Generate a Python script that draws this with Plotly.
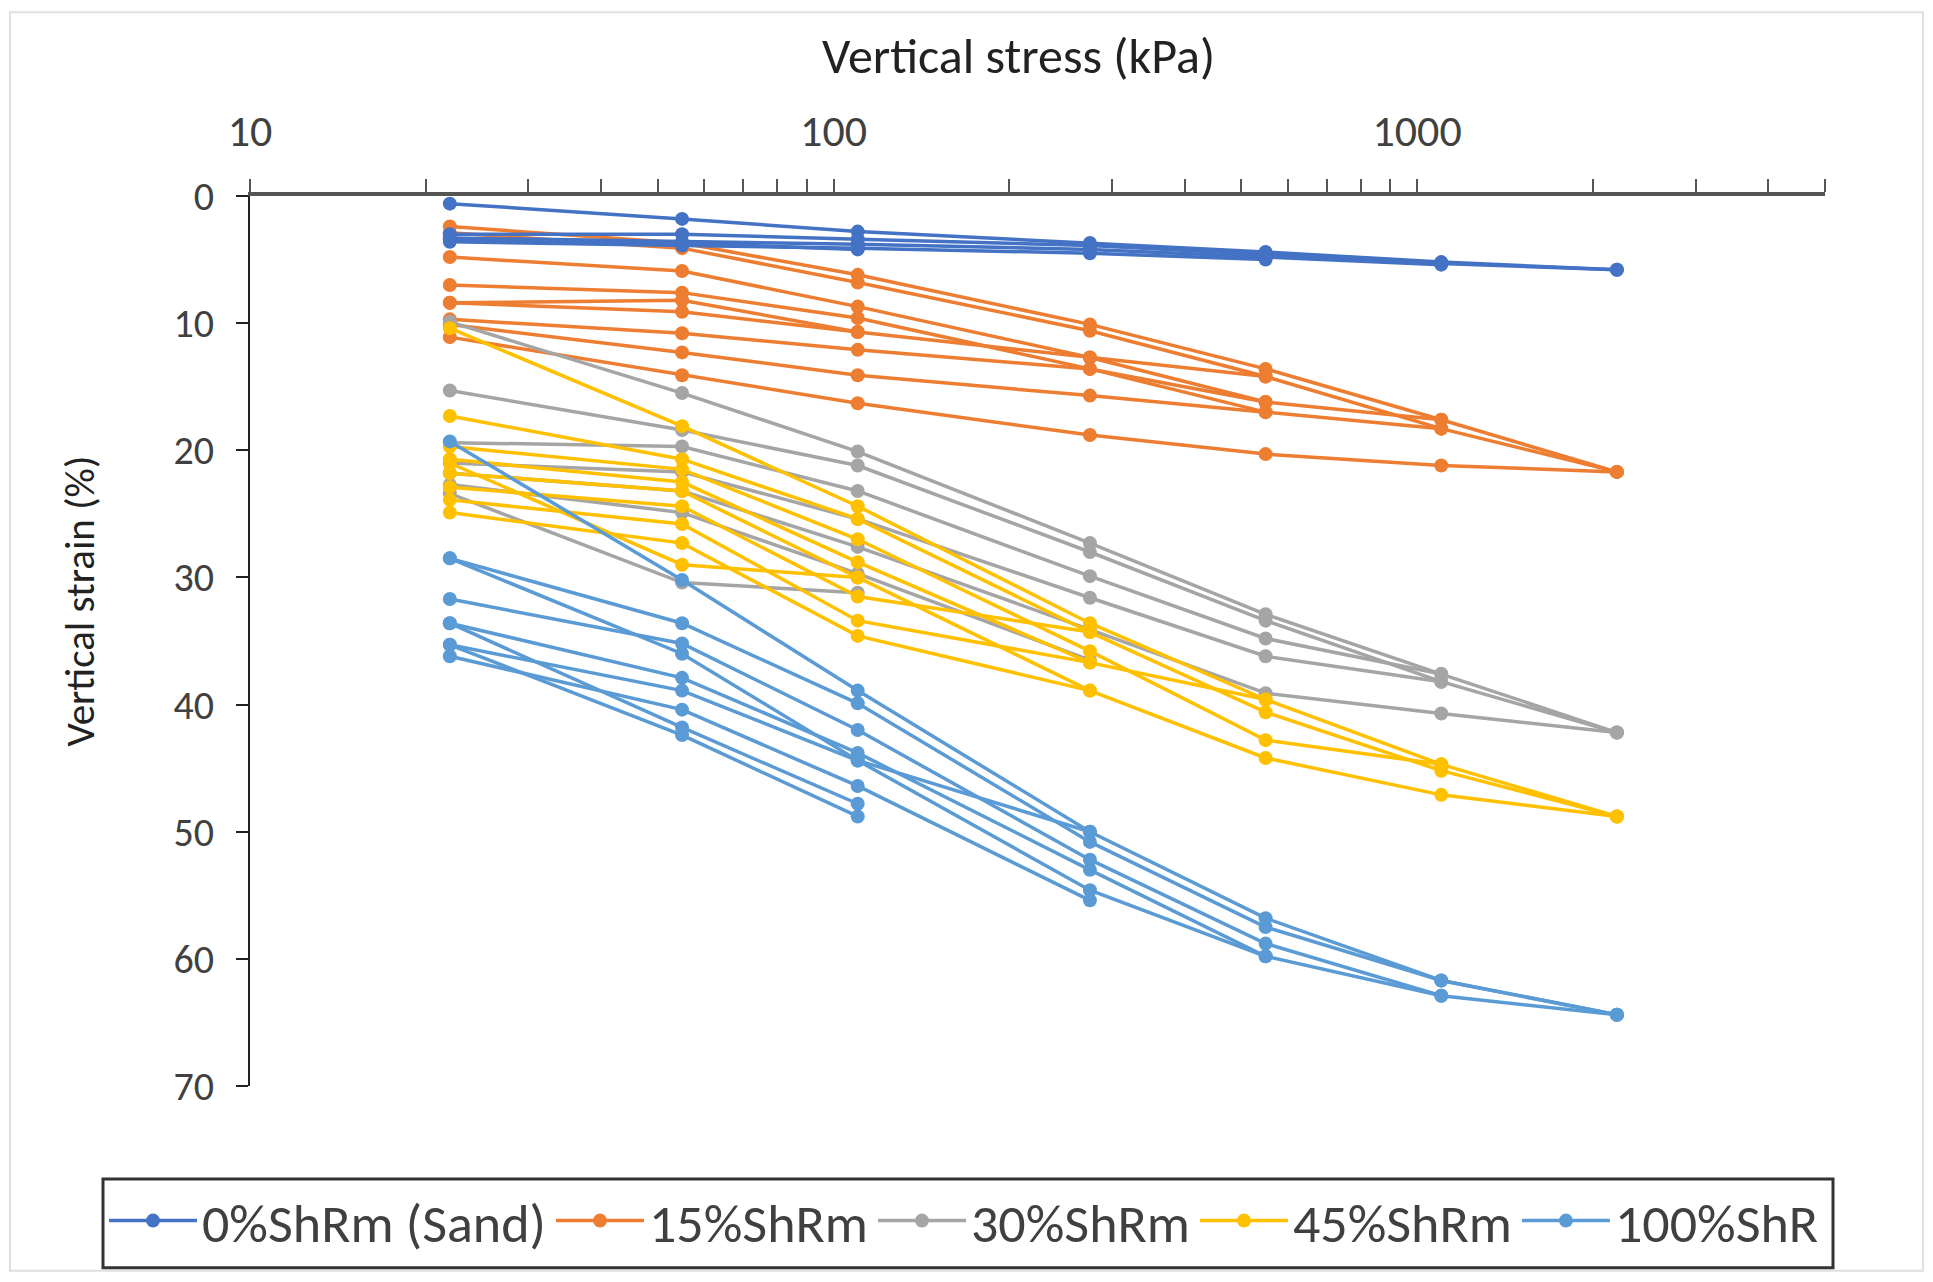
import plotly.graph_objects as go

# Applied vertical stress steps (kPa)
stress = [22, 55, 110, 275, 550, 1100, 2200]

# Vertical strain (%) per test line; None = no reading at that stress
sand_0 = [
    [0.6, 1.8, 2.8, 3.7, 4.4, 5.2, 5.8],
    [3.0, 3.0, 3.4, 3.9, 4.6, 5.3, 5.8],
    [3.3, 3.6, 3.8, 4.2, 4.8, 5.4, None],
    [3.6, 3.9, 4.1, 4.5, 5.0, None, None],
    [3.4, 3.7, 4.2, None, None, None, None],
]
shrm_15 = [
    [2.4, 3.7, 6.2, 10.1, 13.6, 17.6, 21.7],
    [2.9, 4.1, 6.8, 10.6, 14.2, 18.3, 21.7],
    [4.8, 5.9, 8.7, 12.7, 16.2, 17.6, None],
    [7.0, 7.6, 9.6, 13.6, 17.0, 18.3, None],
    [8.4, 9.1, 10.7, 12.7, 14.2, None, None],
    [9.7, 10.8, 12.1, 13.6, 16.2, None, None],
    [10.1, 12.3, 14.1, 15.7, 17.0, None, None],
    [11.1, 14.1, 16.3, 18.8, 20.3, 21.2, 21.7],
    [8.4, 8.2, 10.7, None, None, None, None],
]
shrm_30 = [
    [9.9, 15.5, 20.1, 27.3, 32.9, 37.6, 42.2],
    [15.3, 18.4, 21.2, 28.0, 33.4, 38.2, 42.2],
    [19.4, 19.7, 23.2, 29.9, 34.8, 37.6, None],
    [21.0, 21.7, 25.4, 31.6, 36.2, 38.2, None],
    [21.8, 23.2, 27.6, 34.1, 39.1, 40.7, 42.2],
    [22.7, 24.9, 29.7, 36.5, None, None, None],
    [23.4, 30.4, 31.2, None, None, None, None],
]
shrm_45 = [
    [10.4, 18.1, 24.4, 33.6, 39.6, 44.7, 48.8],
    [17.3, 20.7, 25.4, 34.3, 40.6, 45.2, 48.8],
    [19.7, 21.5, 27.0, 35.8, 42.8, 44.7, None],
    [20.7, 22.5, 28.8, 36.7, 39.6, None, None],
    [21.8, 23.2, 30.0, 38.9, 44.2, 47.1, 48.8],
    [22.9, 24.4, 31.5, 34.3, None, None, None],
    [23.9, 25.8, 33.4, 36.7, None, None, None],
    [24.9, 27.3, 34.6, 38.9, None, None, None],
    [21.0, 29.0, 30.0, None, None, None, None],
]
shr_100 = [
    [19.3, 30.2, 38.9, 50.0, 56.8, 61.7, 64.4],
    [28.5, 33.6, 39.9, 50.8, 57.5, 61.7, 64.4],
    [31.7, 35.2, 42.0, 52.2, 58.8, 62.9, 64.4],
    [33.6, 37.9, 43.8, 53.0, 59.8, 62.9, None],
    [35.3, 38.9, 44.4, 54.6, 59.8, None, None],
    [36.2, 40.4, 46.4, 55.4, None, None, None],
    [33.6, 41.8, 47.8, None, None, None, None],
    [35.3, 42.4, 48.8, None, None, None, None],
    [28.5, 36.0, 44.4, 50.0, None, None, None],
]

group_names = ["0%ShRm (Sand)", "15%ShRm", "30%ShRm", "45%ShRm", "100%ShR"]
group_data = [sand_0, shrm_15, shrm_30, shrm_45, shr_100]
group_colors = ["#4472C4", "#ED7D31", "#A5A5A5", "#FFC000", "#5B9BD5"]
draw_order = [1, 2, 3, 4, 0]

x_ticks = [10, 100, 1000]
x_minor = [20, 30, 40, 50, 60, 70, 80, 90,
           200, 300, 400, 500, 600, 700, 800, 900,
           2000, 3000, 4000, 5000]
y_ticks = [0, 10, 20, 30, 40, 50, 60, 70]

FONT = "Carlito, Calibri, Lato, sans-serif"
TXT = "#404040"

# page has an 8px body margin: size the figure so it fits the window
OFF = 8
W, H = 1933 - 2 * OFF, 1282 - 2 * OFF
L, T = 250 - OFF, 196 - OFF
PW, PH = 1575, 891
R, B = W - L - PW, H - T - PH


def px_x(p):  # page pixel -> paper fraction
    return (p - OFF - L) / PW


def px_y(p):
    return (H - B - (p - OFF)) / PH


fig = go.Figure()
for gi in draw_order:
    for li, line in enumerate(group_data[gi]):
        xs = [s for s, v in zip(stress, line) if v is not None]
        ys = [v for v in line if v is not None]
        fig.add_trace(go.Scatter(
            x=xs, y=ys, mode="lines+markers",
            name=group_names[gi], legendgroup=group_names[gi],
            showlegend=(li == 0), legendrank=gi + 1,
            line=dict(color=group_colors[gi], width=3.5),
            marker=dict(color=group_colors[gi], size=14, symbol="circle"),
        ))

fig.update_layout(
    width=W, height=H,
    margin=dict(l=L, r=R, t=T, b=B),
    paper_bgcolor="white", plot_bgcolor="white",
    font=dict(family=FONT, color=TXT, size=40),
    showlegend=True,
    legend=dict(
        orientation="h", x=px_x(104), y=px_y(1179), xanchor="left", yanchor="top",
        borderwidth=0, bgcolor="rgba(0,0,0,0)",
        font=dict(size=54, family=FONT, color=TXT),
        traceorder="normal", itemwidth=88,
    ),
    xaxis=dict(
        type="log", side="top", range=[1, 3.699],
        tickvals=x_ticks, ticktext=[str(v) for v in x_ticks],
        ticks="outside", ticklen=13, tickwidth=2, tickcolor="#555555",
        minor=dict(tickvals=x_minor, ticks="outside", ticklen=13,
                   tickwidth=2, tickcolor="#555555", showgrid=False),
        showline=True, linecolor="#555555", linewidth=4,
        showgrid=False, zeroline=False,
        tickfont=dict(size=44), ticklabelstandoff=15,
    ),
    yaxis=dict(
        range=[70, 0], tickvals=y_ticks,
        ticks="outside", ticklen=12, tickwidth=2, tickcolor="#222222",
        showline=True, linecolor="#222222", linewidth=2,
        showgrid=False, zeroline=False,
        tickfont=dict(size=40), ticklabelstandoff=14,
    ),
    annotations=[
        dict(text="Vertical stress (kPa)", xref="paper", yref="paper",
             x=px_x(1018), y=px_y(55), xanchor="center", yanchor="middle",
             showarrow=False, font=dict(size=50, family=FONT, color="#222222")),
        dict(text="Vertical strain (%)", xref="paper", yref="paper",
             x=px_x(80), y=px_y(602), xanchor="center", yanchor="middle",
             textangle=-90, showarrow=False,
             font=dict(size=41, family=FONT, color="#222222")),
    ],
)

# faint chart-area border
fig.add_shape(type="rect", xref="paper", yref="paper",
              x0=px_x(10), x1=px_x(1923), y0=px_y(1272), y1=px_y(12),
              line=dict(color="#E0E0E0", width=2), layer="below")
# legend frame
fig.add_shape(type="rect", xref="paper", yref="paper",
              x0=px_x(103), x1=px_x(1833), y0=px_y(1269), y1=px_y(1180),
              line=dict(color="#333333", width=3), layer="below")

fig.write_html("out.html")
